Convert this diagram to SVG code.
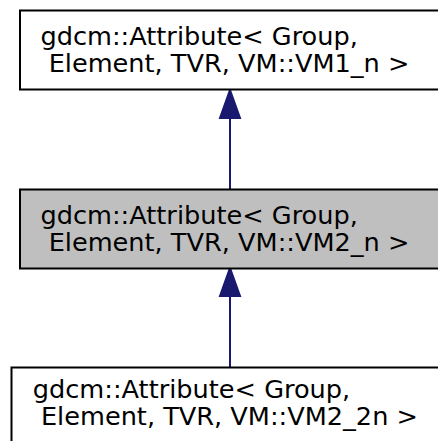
<svg xmlns="http://www.w3.org/2000/svg" width="438" height="441" viewBox="0 0 438 441">
<style>
.box{fill:#ffffff;stroke:#000000;stroke-width:2}
.sel{fill:#bfbfbf;stroke:#000000;stroke-width:2}
.t{font-family:"DejaVu Sans",sans-serif;font-size:25.6px;fill:#000000}
.edge{stroke:#191970;stroke-width:2;fill:none}
.head{fill:#191970;stroke:#191970;stroke-width:2}
</style>
<rect width="438" height="441" fill="#ffffff"/>
<g id="connectors">
<path class="edge" d="M230,189 L230,118"/>
<polygon class="head" points="230,90 240,118 220,118"/>
<path class="edge" d="M230,367 L230,296"/>
<polygon class="head" points="230,268 240,296 220,296"/>
</g>
<g id="node1">
<rect class="box" x="20" y="10.5" width="440" height="79"/>
<text class="t" x="40.5" y="44.5">gdcm::Attribute&lt; Group,</text>
<text class="t" x="40.5" y="71.5" xml:space="preserve"> Element, TVR, VM::VM1_n &gt;</text>
</g>
<g id="node2">
<rect class="sel" x="20" y="189.5" width="440" height="79"/>
<text class="t" x="40.5" y="223.5">gdcm::Attribute&lt; Group,</text>
<text class="t" x="40.5" y="250.5" xml:space="preserve"> Element, TVR, VM::VM2_n &gt;</text>
</g>
<g id="node3">
<rect class="box" x="11.5" y="367.5" width="450" height="90"/>
<text class="t" x="32.8" y="397.5">gdcm::Attribute&lt; Group,</text>
<text class="t" x="32.8" y="424.5" xml:space="preserve"> Element, TVR, VM::VM2_2n &gt;</text>
</g>
</svg>
